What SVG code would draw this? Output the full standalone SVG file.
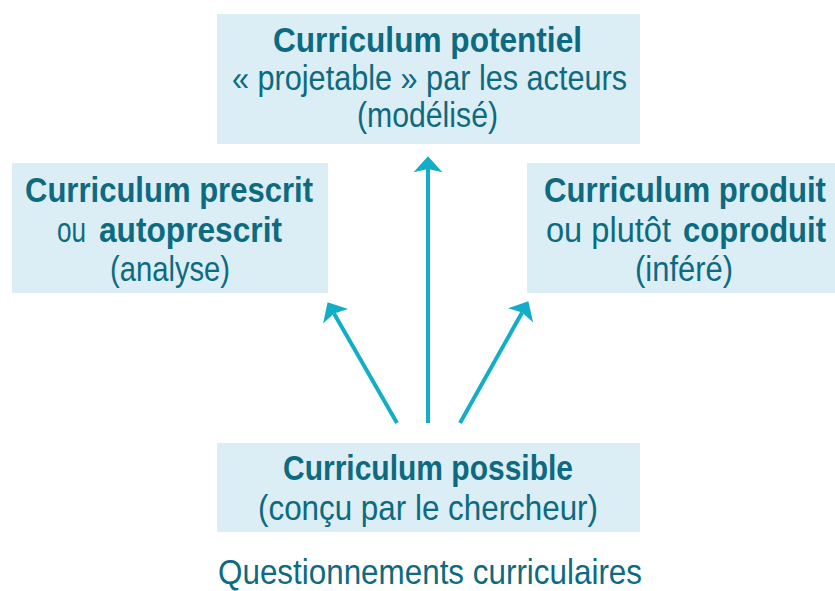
<svg xmlns="http://www.w3.org/2000/svg" width="835" height="591" viewBox="0 0 835 591">
<style>
.box{fill:#dceef5}
text{font-family:"Liberation Sans",Arial,sans-serif;font-size:35px;fill:#0d6a80}
.b{font-weight:bold}
.arr{stroke:#12aec8;stroke-width:4;fill:none}
</style>
<defs>
<marker id="ah" markerUnits="userSpaceOnUse" markerWidth="20" markerHeight="30" viewBox="0 -14 16 28" refX="3" refY="0" orient="auto">
<path d="M0,-13.5 L15,0 L0,13.5 L3,0 Z" fill="#12aec8"/>
</marker>
</defs>
<rect width="835" height="591" fill="#ffffff"/>
<g id="potentiel">
<rect class="box" x="217" y="14" width="423" height="130"/>
<text class="b" x="273" y="52" textLength="309" lengthAdjust="spacingAndGlyphs">Curriculum potentiel</text>
<text x="232" y="90" textLength="395" lengthAdjust="spacingAndGlyphs">« projetable » par les acteurs</text>
<text x="357" y="127" textLength="141" lengthAdjust="spacingAndGlyphs">(modélisé)</text>
</g>
<g id="prescrit">
<rect class="box" x="12" y="163" width="316" height="130"/>
<text class="b" x="25" y="202" textLength="288" lengthAdjust="spacingAndGlyphs">Curriculum prescrit</text>
<text x="57" y="242" textLength="29" lengthAdjust="spacingAndGlyphs">ou</text>
<text class="b" x="99" y="242" textLength="183" lengthAdjust="spacingAndGlyphs">autoprescrit</text>
<text x="110" y="281" textLength="120" lengthAdjust="spacingAndGlyphs">(analyse)</text>
</g>
<g id="produit">
<rect class="box" x="527" y="163" width="308" height="130"/>
<text class="b" x="544" y="202" textLength="282" lengthAdjust="spacingAndGlyphs">Curriculum produit</text>
<text x="546" y="242" textLength="125" lengthAdjust="spacingAndGlyphs">ou plutôt</text>
<text class="b" x="683" y="242" textLength="143" lengthAdjust="spacingAndGlyphs">coproduit</text>
<text x="635" y="281" textLength="98" lengthAdjust="spacingAndGlyphs">(inféré)</text>
</g>
<g id="possible">
<rect class="box" x="217" y="443" width="423" height="89"/>
<text class="b" x="283" y="480" textLength="290" lengthAdjust="spacingAndGlyphs">Curriculum possible</text>
<text x="258" y="520" textLength="340" lengthAdjust="spacingAndGlyphs">(conçu par le chercheur)</text>
</g>
<g id="questionnements">
<text x="218" y="584" textLength="424" lengthAdjust="spacingAndGlyphs">Questionnements curriculaires</text>
</g>
<g id="connectors">
<line class="arr" x1="428" y1="423" x2="428" y2="169" marker-end="url(#ah)"/>
<line class="arr" x1="397" y1="423" x2="334" y2="313.4" marker-end="url(#ah)"/>
<line class="arr" x1="460" y1="423" x2="522.1" y2="312.5" marker-end="url(#ah)"/>
</g>
</svg>
